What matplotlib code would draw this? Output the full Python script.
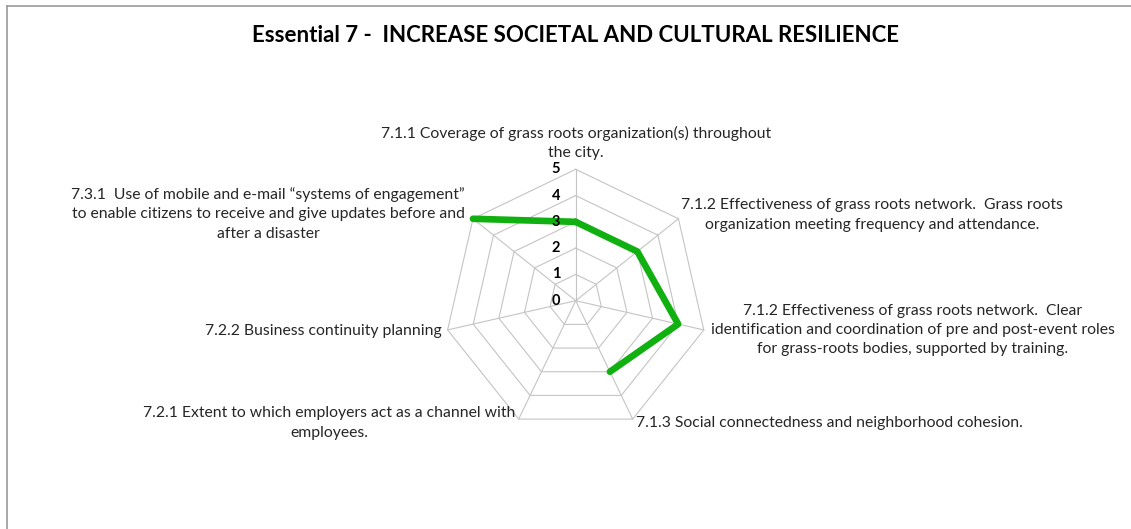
import numpy as np
import matplotlib
matplotlib.use("Agg")
import matplotlib.pyplot as plt
from matplotlib.lines import Line2D

# ---- data ----
title = "Essential 7 -  INCREASE SOCIETAL AND CULTURAL RESILIENCE"
categories = [
    "7.1.1 Coverage of grass roots organization(s) throughout\nthe city.",
    "7.1.2 Effectiveness of grass roots network.  Grass roots\norganization meeting frequency and attendance.",
    "7.1.2 Effectiveness of grass roots network.  Clear\nidentification and coordination of pre and post-event roles\nfor grass-roots bodies, supported by training.",
    "7.1.3 Social connectedness and neighborhood cohesion.",
    "7.2.1 Extent to which employers act as a channel with\nemployees.",
    "7.2.2 Business continuity planning",
    "7.3.1  Use of mobile and e-mail \u201csystems of engagement\u201d\nto enable citizens to receive and give updates before and\nafter a disaster",
]
values = [3, 3, 4, 3, np.nan, np.nan, 5]
ticks = [0, 1, 2, 3, 4, 5]

# ---- layout ----
W, H = 1131, 529
plt.rcParams["font.family"] = ["Lato", "DejaVu Sans"]
fig = plt.figure(figsize=(W / 100, H / 100), dpi=100)
fig.patch.set_facecolor("white")

cx, cy, R = 575.7, 300.7, 131.4
ax = fig.add_axes([(cx - R) / W, (H - cy - R) / H, 2 * R / W, 2 * R / H],
                  projection="polar")
ax.set_theta_zero_location("N")
ax.set_theta_direction(-1)
ax.set_ylim(0, max(ticks))
ax.axis("off")

n = len(categories)
theta = np.linspace(0, 2 * np.pi, n, endpoint=False)
grid_c = "#C4C4C4"
for r in ticks[1:]:
    ax.plot(np.append(theta, theta[0]), [r] * (n + 1), color=grid_c, lw=0.8,
            zorder=1, clip_on=False)
for t in theta:
    ax.plot([t, t], [0, max(ticks)], color=grid_c, lw=0.8, zorder=1, clip_on=False)

vals = np.append(values, values[0])
ax.plot(np.append(theta, theta[0]), vals, color="#10B010", lw=4.8,
        solid_capstyle="round", solid_joinstyle="round", zorder=3, clip_on=False)

# radial tick labels (bold, left of vertical axis)
for r in ticks:
    fig.text(556 / W, 1 - (cy - r * R / max(ticks)) / H, str(r), ha="center",
             va="center", fontsize=10.5, fontweight="bold", color="#000000")

# category labels
fs = 11.3
ls = 1.5
lab_pos = [
    (576, 143, "center", "center"),
    (872, 215, "center", "center"),
    (913, 330, "center", "center"),
    (636, 423, "left", "center"),
    (329, 423, "center", "center"),
    (442, 331, "right", "center"),
    (268, 214, "center", "center"),
]
for txt, (x, y, ha, va) in zip(categories, lab_pos):
    fig.text(x / W, 1 - y / H, txt, ha=ha, va=va, fontsize=fs,
             color="#262626", linespacing=ls, multialignment="center")

fig.text(575 / W, 1 - 35 / H, title, ha="center", va="center", fontsize=16.0,
         fontweight="bold", color="#000000")

# chart border (top and left visible)
fig.add_artist(Line2D([6.5 / W, 1], [1 - 5.5 / H, 1 - 5.5 / H],
                      transform=fig.transFigure, color="#9A9A9A", lw=1.2))
fig.add_artist(Line2D([6.5 / W, 6.5 / W], [1 - 5.5 / H, 0],
                      transform=fig.transFigure, color="#9A9A9A", lw=1.2))

fig.savefig("out.png", dpi=100, facecolor="white")
